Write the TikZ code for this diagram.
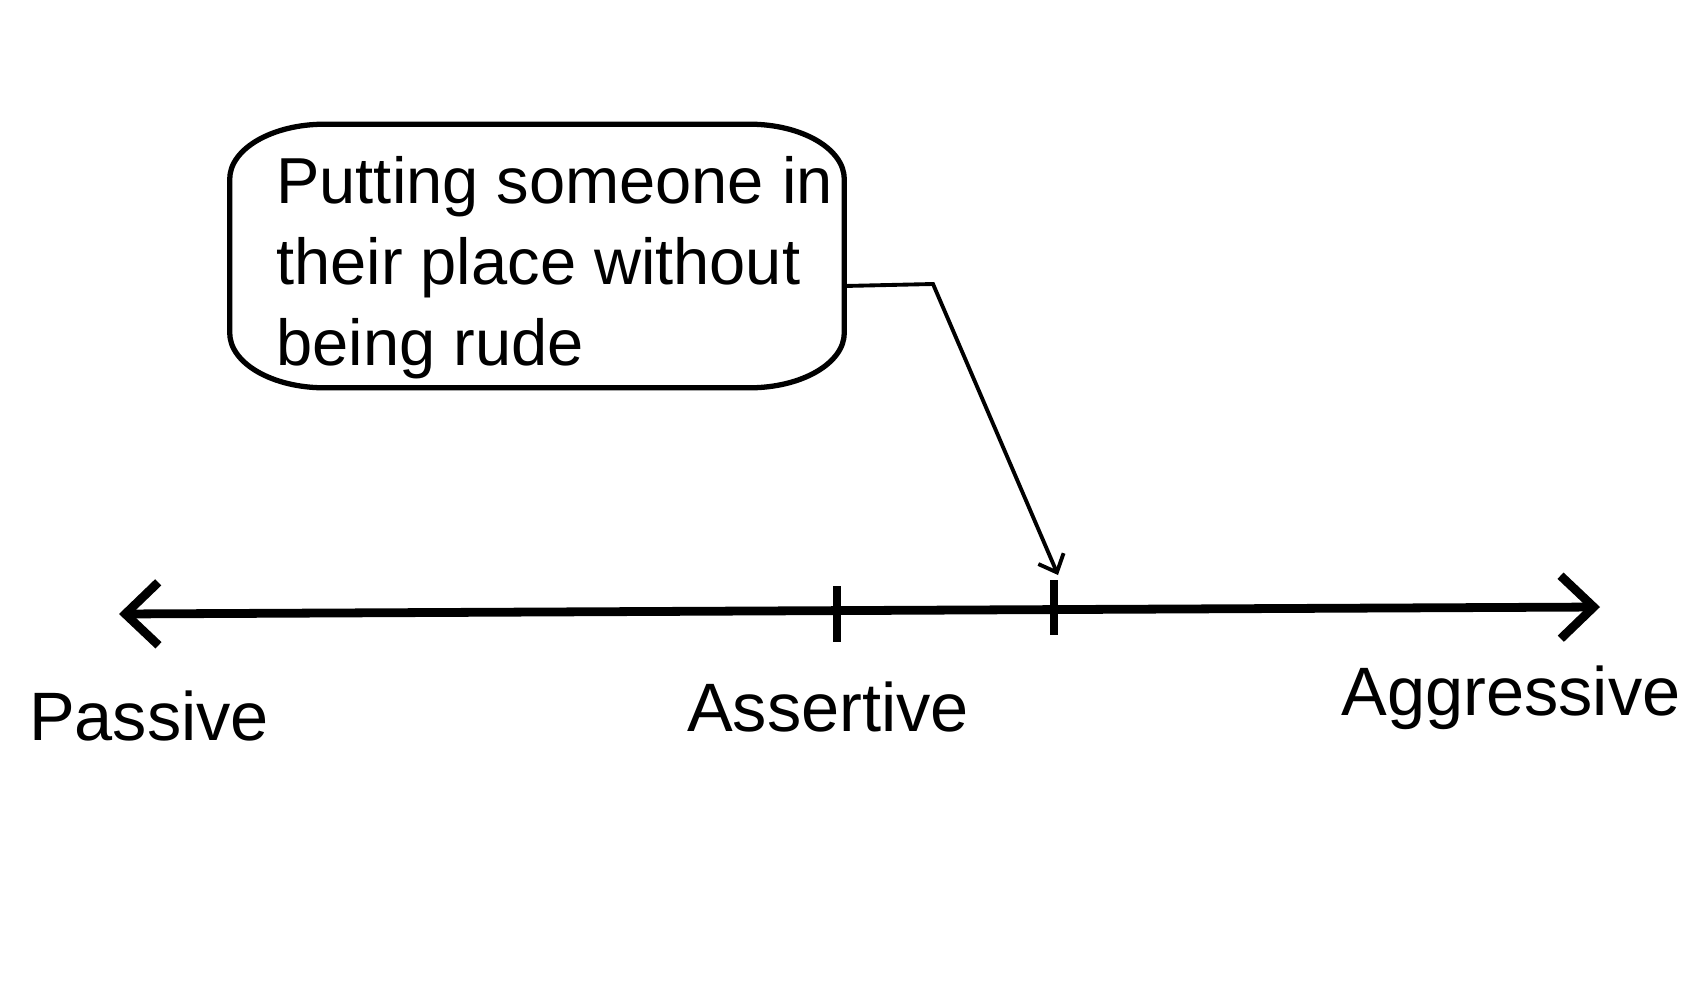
\documentclass[tikz,border=0pt]{standalone}
\usepackage{fontspec}
\setmainfont{Liberation Sans}
\usetikzlibrary{arrows.meta,calc}

\begin{document}
\begin{tikzpicture}[
                    x=0.02cm, y=-0.02cm,
                    scale line/.style={line width=5pt,
                        arrows={Straight Barb[length=0.66cm,width=1.26cm,line width=5pt]-Straight Barb[length=0.66cm,width=1.26cm,line width=5pt]}},
                    tickmark/.style={line width=5pt},
                    notebox/.style={minimum width=12.28cm, minimum height=5.26cm},
                    noteline/.style={line width=3pt},
                    notetext/.style={align=left, font=\fontsize{37}{46}\selectfont, inner sep=0pt},
                    endlabel/.style={font=\fontsize{39}{46}\selectfont},
                    pointer/.style={line width=2.2pt,
                        -{Straight Barb[length=0.3cm,width=0.55cm,line width=2.2pt]}}
                  ]
                  \useasboundingbox (0,0) rectangle (1701,1001);
                  \coordinate (leftend) at (119,614);
                  \coordinate (rightend) at (1600,607);
                  \coordinate (asstop) at (837,586);
                  \coordinate (assbot) at (837,642);
                  \coordinate (marktop) at (1054,580);
                  \coordinate (markbot) at (1054,635);
                  \coordinate (bend) at (933,284);
                  \draw[scale line] (leftend) -- (rightend);
                  \draw[tickmark] (asstop) -- (assbot);
                  \draw[tickmark] (marktop) -- (markbot);
                  \node[notebox] (note) at (537,256) {};
                  \draw[noteline] ([xshift=-1.9cm]note.north east)
                    arc[start angle=90, end angle=0, x radius=1.9cm, y radius=1.1cm]
                    -- ([yshift=1.1cm]note.south east)
                    arc[start angle=0, end angle=-90, x radius=1.9cm, y radius=1.1cm]
                    -- ([xshift=1.9cm]note.south west)
                    arc[start angle=-90, end angle=-180, x radius=1.9cm, y radius=1.1cm]
                    -- ([yshift=-1.1cm]note.north west)
                    arc[start angle=180, end angle=90, x radius=1.9cm, y radius=1.1cm]
                    -- cycle;
                  \node[notetext, anchor=west] (notetxt) at (276,268)
                    {Putting someone in\\their place without\\being rude};
                  \node[endlabel] (passive) at (149,716) {Passive};
                  \node[endlabel] (assertive) at (828,707) {Assertive};
                  \node[endlabel] (aggressive) at (1511,698) {Aggressive};
                  \draw[pointer] ($(note.east)+(0,30)$) -- (bend) -- ($(marktop)+(4,-5)$);
                \end{tikzpicture}
\end{document}
